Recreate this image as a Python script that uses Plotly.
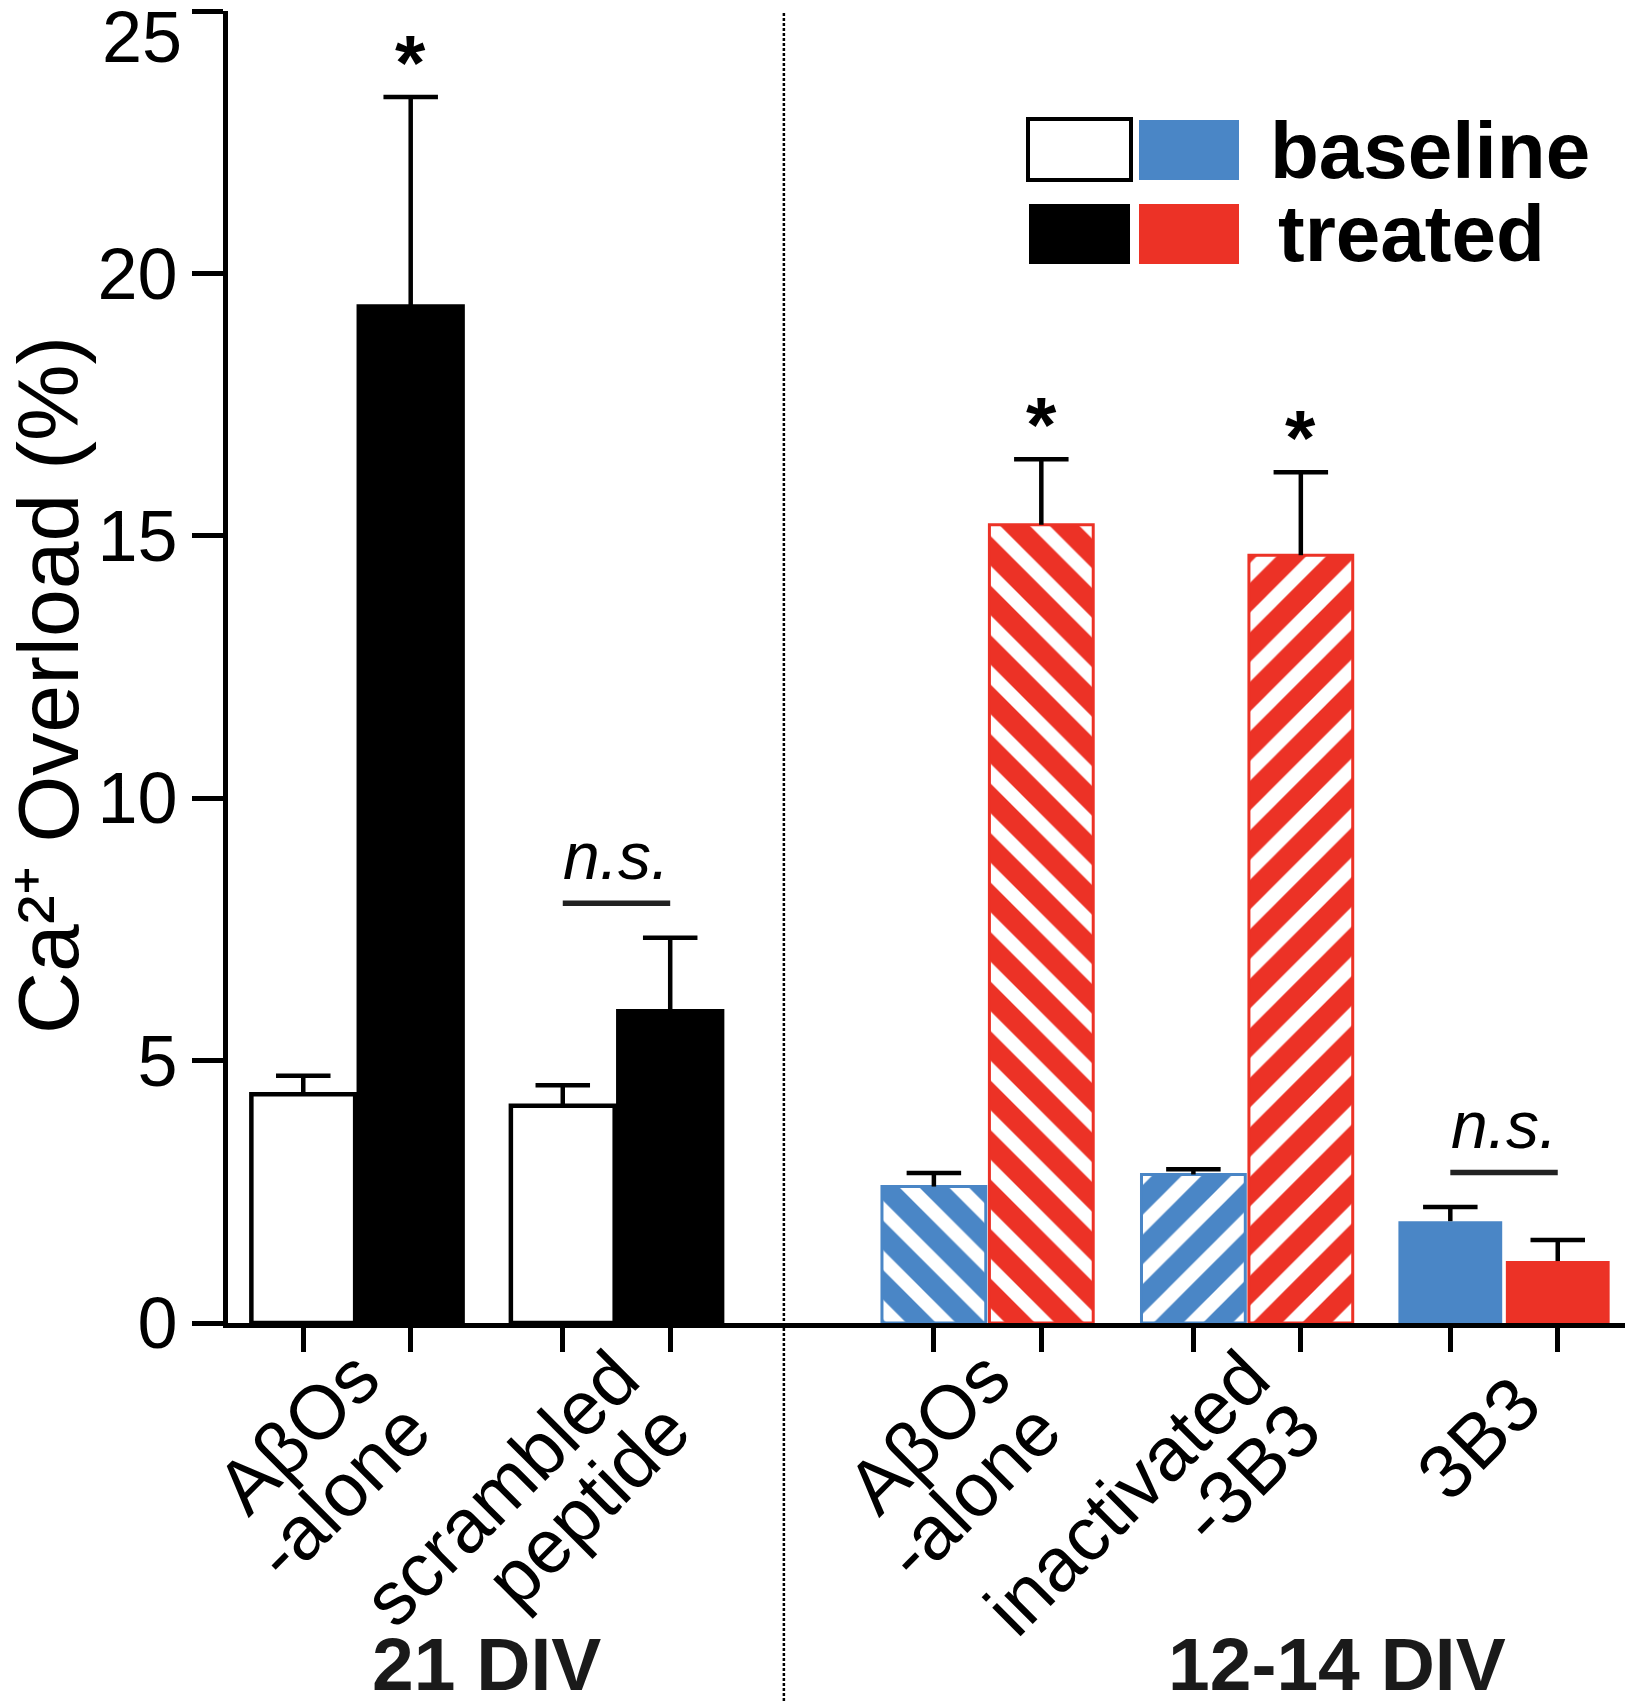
import plotly.graph_objects as go

# ---------------- data ----------------
group_labels = ["AβOs\n-alone", "scrambled\npeptide", "AβOs\n-alone", "inactivated\n-3B3", "3B3"]
baseline_mean = [4.36, 4.14, 2.60, 2.83, 1.94]
baseline_err = [0.35, 0.39, 0.26, 0.10, 0.27]
treated_mean = [19.37, 5.94, 15.21, 14.63, 1.18]
treated_err = [3.99, 1.40, 1.25, 1.58, 0.40]
star_groups = [0, 2, 3]
ns_groups = [1, 4]
section_labels = ["21 DIV", "12-14 DIV"]
y_ticks = [0, 5, 10, 15, 20, 25]

# ---------------- styling / layout constants ----------------
FONT = "Liberation Sans, Arial, Helvetica, sans-serif"
BLUE = "#4a86c6"
RED = "#ec3226"
centers = [0.0, 1.0, 2.43, 3.43, 4.42]
OFF = 0.207
BW = 0.40
XMIN, XMAX = -0.497, 4.89
W, H = 1633, 1705
PAGE = 8                      # default body margin of the html page
ML, MR, MT, MB = 228 - PAGE, 7 + PAGE, 11 - PAGE, 382 + PAGE
PXU = (W - ML - MR) / (XMAX - XMIN)   # px per x unit
TICK_FS = 72
LAB_FS = 76
ANGLE = -45

bx = [c - OFF for c in centers]
tx = [c + OFF for c in centers]

fig = go.Figure()

def bar(idx, xs, ys, color, line_color, line_w, pattern=None):
    marker = dict(color=color, line=dict(color=line_color, width=line_w))
    if pattern is not None:
        marker["pattern"] = pattern
    fig.add_trace(go.Bar(x=[xs[i] for i in idx], y=[ys[i] for i in idx], width=BW,
                         marker=marker, hoverinfo="skip"))

# 21 DIV: white baseline / black treated
bar([0, 1], bx, baseline_mean, "white", "black", 4.5)
bar([0, 1], tx, treated_mean, "black", "black", 4.5)
# 12-14 DIV hatched
hatch_shapes = ["\\", "/"]
bar([2, 3], bx, baseline_mean, BLUE, BLUE, 3,
    dict(shape=hatch_shapes, fgcolor="white", bgcolor=BLUE, fgopacity=1, size=35, solidity=0.4))
bar([2, 3], tx, treated_mean, RED, RED, 3,
    dict(shape=hatch_shapes, fgcolor="white", bgcolor=RED, fgopacity=1, size=35, solidity=0.4))
# 3B3 solid
bar([4], bx, baseline_mean, BLUE, BLUE, 0)
bar([4], tx, treated_mean, RED, RED, 0)

# one-sided error bars (stem + cap) drawn through data coordinates
CAP = 0.105
ex, ey = [], []
for xs, m, e in [(bx, baseline_mean, baseline_err), (tx, treated_mean, treated_err)]:
    for i in range(len(m)):
        top = m[i] + e[i]
        ex += [xs[i], xs[i], None, xs[i] - CAP, xs[i] + CAP, None]
        ey += [m[i], top, None, top, top, None]
fig.add_trace(go.Scatter(x=ex, y=ey, mode="lines", line=dict(color="black", width=4.5),
                         hoverinfo="skip"))

# n.s. lines
for g in ns_groups:
    ly = max(baseline_mean[g] + baseline_err[g], treated_mean[g] + treated_err[g]) + 0.66
    fig.add_trace(go.Scatter(x=[bx[g], tx[g]], y=[ly, ly], mode="lines",
                             line=dict(color="#222", width=5.5), hoverinfo="skip"))
    fig.add_annotation(x=centers[g], y=ly, text="<i>n.s.</i>", showarrow=False,
                       yanchor="bottom", yshift=8, font=dict(family=FONT, size=66, color="black"))

# stars
for g in star_groups:
    fig.add_annotation(x=tx[g], y=treated_mean[g] + treated_err[g], text="<b>*</b>",
                       showarrow=False, yanchor="bottom", yshift=-12,
                       font=dict(family=FONT, size=78, color="black"))

def fx(page_x):
    return (page_x - PAGE - ML) / (W - ML - MR)

def fy(page_y):
    return (H - MB - (page_y - PAGE)) / (H - MT - MB)

# top y tick label (drawn lowered, as in the original)
fig.add_annotation(x=0, xref="paper", y=y_ticks[-1], yref="y", text=str(y_ticks[-1]),
                   showarrow=False, xanchor="right", yanchor="middle", xshift=-44, yshift=-26,
                   font=dict(family=FONT, size=TICK_FS, color="black"))

# y title
fig.add_annotation(x=fx(48), y=fy(685), xref="paper", yref="paper",
                   text="Ca²⁺ Overload (%)", textangle=-90, showarrow=False,
                   xanchor="center", yanchor="middle",
                   font=dict(family=FONT, size=86, color="black"))

# dotted divider
div_x = (centers[1] + BW / 2 + OFF + centers[2] - OFF - BW / 2) / 2 - 0.07
fig.add_shape(type="line", xref="paper", yref="paper",
              x0=(div_x - XMIN) / (XMAX - XMIN), x1=(div_x - XMIN) / (XMAX - XMIN),
              y0=fy(13), y1=fy(1702),
              line=dict(color="black", width=2.5, dash="3px,2px"))

# section labels
sec_x = [(centers[0] + centers[1]) / 2, (centers[2] + centers[4]) / 2 + 0.35]
for lab, sx in zip(section_labels, sec_x):
    fig.add_annotation(x=sx, xref="x", y=fy(1664), yref="paper", text=f"<b>{lab}</b>",
                       showarrow=False, yanchor="middle",
                       font=dict(family=FONT, size=75, color="#1a1a1a"))

# custom legend
leg = [
    (1028, 1131, 119, 180, "white", "black", 4),
    (1139, 1239, 120, 180, BLUE, BLUE, 0),
    (1029, 1130, 204, 264, "black", "black", 0),
    (1139, 1239, 204, 264, RED, RED, 0),
]
for x0, x1, y0, y1, fc, lc, lw in leg:
    fig.add_shape(type="rect", xref="paper", yref="paper",
                  x0=fx(x0), x1=fx(x1), y0=fy(y1), y1=fy(y0),
                  fillcolor=fc, line=dict(color=lc, width=lw))
for txt, lx, ly in [("baseline", 1268, 151), ("treated", 1276, 234)]:
    fig.add_annotation(x=fx(lx), y=fy(ly), xref="paper", yref="paper",
                       text=f"<b>{txt}</b>", showarrow=False, xanchor="left", yanchor="middle",
                       font=dict(family=FONT, size=80, color="black"))

# rotated category labels, one axis per text line
lines = [lab.split("\n") for lab in group_labels]
first_idx = [i for i, l in enumerate(lines) if len(l) == 2]
single_idx = [i for i, l in enumerate(lines) if len(l) == 1]
label_axes = [
    ("xaxis2", "x2", first_idx, 0, 0, -6),
    ("xaxis3", "x3", first_idx, 1, 51, 46),
    ("xaxis4", "x4", single_idx, 0, 14, 20),
]
axis_common = dict(range=[XMIN, XMAX], overlaying="x", anchor="y", side="bottom",
                   showgrid=False, zeroline=False, showline=False, ticks="", automargin=False,
                   tickangle=ANGLE, tickfont=dict(family=FONT, size=LAB_FS, color="black"))
layout_axes = {}
for name, ref, idxs, li, dxp, stand in label_axes:
    layout_axes[name] = dict(axis_common,
                             tickvals=[centers[i] + dxp / PXU for i in idxs],
                             ticktext=[lines[i][li] for i in idxs],
                             ticklabelstandoff=stand)
    fig.add_trace(go.Scatter(x=[centers[idxs[0]]], y=[0], xaxis=ref, mode="markers",
                             marker=dict(opacity=0), hoverinfo="skip"))

tick_x = sorted(bx + tx)
fig.update_layout(
    template="none",
    width=W, height=H, margin=dict(l=ML, r=MR, t=MT, b=MB, autoexpand=False),
    plot_bgcolor="white", paper_bgcolor="white", showlegend=False, barmode="overlay",
    font=dict(family=FONT, color="black"),
    xaxis=dict(range=[XMIN, XMAX], showgrid=False, zeroline=False, showline=True,
               linecolor="black", linewidth=5, ticks="outside", ticklen=24, tickwidth=5,
               tickcolor="black", tickvals=tick_x, showticklabels=False, automargin=False),
    yaxis=dict(range=[0, 25], tickvals=y_ticks, ticktext=[str(v) for v in y_ticks[:-1]] + [" "],
               showgrid=False, zeroline=False,
               showline=True, linecolor="black", linewidth=5, ticks="outside", ticklen=31,
               tickwidth=5, tickcolor="black", automargin=False,
               tickfont=dict(family=FONT, size=TICK_FS, color="black")),
    **layout_axes,
)

fig.write_html("out.html")
